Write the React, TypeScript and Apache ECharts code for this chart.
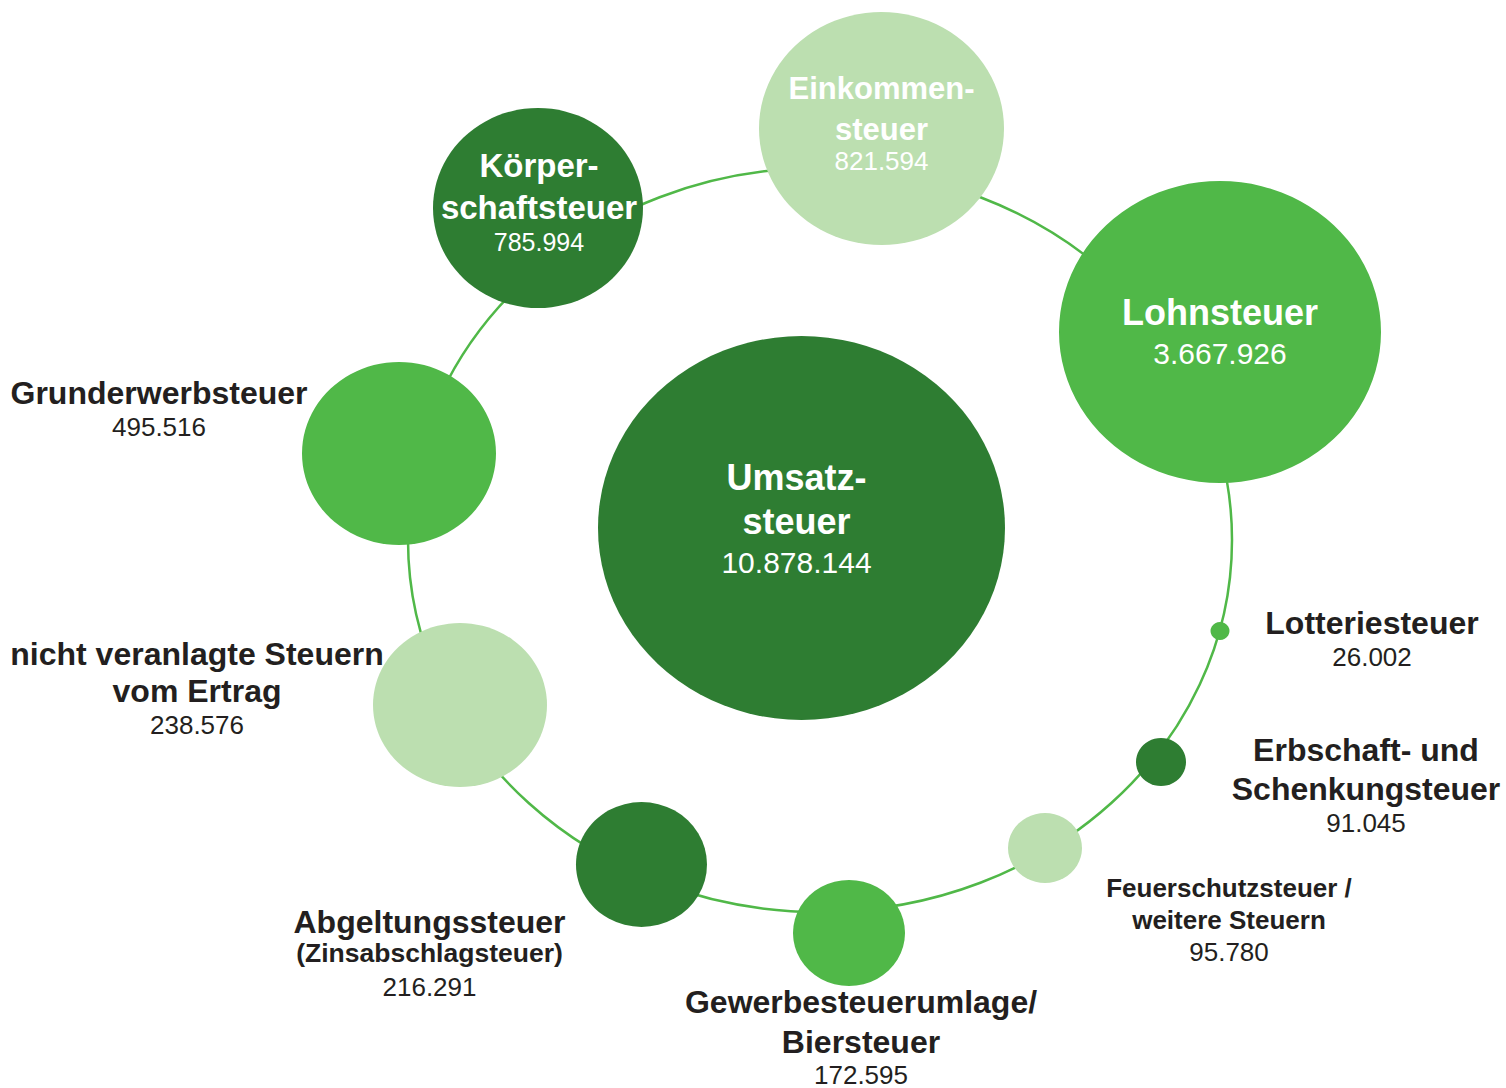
import React, { useEffect, useRef } from "react";
import * as echarts from "echarts";

// ---- data ----
const categories = [
  "Umsatzsteuer",
  "Lohnsteuer",
  "Einkommensteuer",
  "Körperschaftsteuer",
  "Grunderwerbsteuer",
  "nicht veranlagte Steuern vom Ertrag",
  "Abgeltungssteuer (Zinsabschlagsteuer)",
  "Gewerbesteuerumlage/Biersteuer",
  "Feuerschutzsteuer / weitere Steuern",
  "Erbschaft- und Schenkungsteuer",
  "Lotteriesteuer",
];
const values = [10878144, 3667926, 821594, 785994, 495516, 238576, 216291, 172595, 95780, 91045, 26002];
const labelLines = [
  ["Umsatz-", "steuer"],
  ["Lohnsteuer"],
  ["Einkommen-", "steuer"],
  ["Körper-", "schaftsteuer"],
  ["Grunderwerbsteuer"],
  ["nicht veranlagte Steuern", "vom Ertrag"],
  ["Abgeltungssteuer", "(Zinsabschlagsteuer)"],
  ["Gewerbesteuerumlage/", "Biersteuer"],
  ["Feuerschutzsteuer /", "weitere Steuern"],
  ["Erbschaft- und", "Schenkungsteuer"],
  ["Lotteriesteuer"],
];

// ---- layout (positions, sizes, styles) ----
const centers = [
  [801.5, 528], [1220, 332], [881.5, 128.5], [538, 208], [399, 453.5], [460, 705],
  [641.5, 864.5], [849, 933], [1045, 848], [1161, 762], [1220, 631],
];
const sizes = [
  [407, 384], [322, 302], [245, 233], [210, 200], [194, 183], [174, 164],
  [131, 125], [112, 106], [74, 70], [50, 48], [19, 18],
];
const DARK = "#2e7d32";
const MID = "#50b848";
const LIGHT = "#bcdfb0";
const colors = [DARK, MID, LIGHT, DARK, MID, LIGHT, DARK, MID, LIGHT, DARK, MID];
const labelOffsets = [
  [-5, -10], [0, 0], [0, -9], [1, -8], [-240, -44.5], [-263, -17],
  [-212, 91.5], [12, 102], [184, 72], [205, 22], [152, 8],
];
// [fontSize, lineHeight, bold] per text line (last = value)
const lineStyles: [number, number, boolean][][] = [
  [[36, 44, true], [36, 44, true], [30, 38, false]],
  [[36, 42, true], [30, 40, false]],
  [[31, 41, true], [31, 41, true], [26, 22, false]],
  [[33, 42, true], [33, 42, true], [25, 28, false]],
  [[32, 36, true], [26, 32, false]],
  [[32, 37, true], [32, 37, true], [26, 31, false]],
  [[32, 32, true], [26.5, 30, true], [26, 38, false]],
  [[32, 40, true], [32, 40, true], [26, 26, false]],
  [[26, 32, true], [26, 32, true], [26, 32, false]],
  [[32, 39, true], [32, 39, true], [26, 29, false]],
  [[32, 36, true], [26, 32, false]],
];
const insideLabel = [true, true, true, true, false, false, false, false, false, false, false];
const TEXT_DARK = "#231f20";
const FONT = "'Liberation Sans', Arial, sans-serif";

function fmtDE(v: number): string {
  return String(v).replace(/\B(?=(\d{3})+(?!\d))/g, ".");
}

export default function App() {
  const ref = useRef<HTMLDivElement>(null);
  useEffect(() => {
    if (!ref.current) return;
    const chart = echarts.init(ref.current, null, { renderer: "svg" });
    const data = values.map((v, i) => {
      const lines = labelLines[i];
      const styles = lineStyles[i];
      const rich: any = {};
      styles.forEach((s, j) => {
        rich["s" + j] = {
          fontSize: s[0],
          lineHeight: s[1],
          fontWeight: s[2] ? "bold" : "normal",
          fontFamily: FONT,
          color: insideLabel[i] ? "#ffffff" : TEXT_DARK,
          align: "center",
        };
      });
      const text =
        lines.map((t, j) => `{s${j}|${t}}`).join("\n") + `\n{s${lines.length}|${fmtDE(v)}}`;
      const [w, h] = sizes[i];
      const [dx, dy] = labelOffsets[i];
      return {
        name: categories[i],
        value: [centers[i][0], centers[i][1], v],
        symbolSize: sizes[i],
        itemStyle: { color: colors[i], opacity: 1 },
        label: {
          show: true,
          position: [w / 2 + dx, h / 2 + dy],
          formatter: () => text,
          rich,
          align: "center",
          verticalAlign: "middle",
        },
      };
    });
    chart.setOption({
      animation: false,
      grid: { left: 0, right: 0, top: 0, bottom: 0 },
      xAxis: { type: "value", min: 0, max: 1506, show: false },
      yAxis: { type: "value", min: 0, max: 1088, inverse: true, show: false },
      graphic: {
        elements: [
          {
            type: "ellipse",
            z: 0,
            silent: true,
            shape: { cx: 820, cy: 540, rx: 412, ry: 372 },
            style: { fill: "none", stroke: MID, lineWidth: 2.5 },
          },
        ],
      },
      series: [
        {
          type: "scatter",
          z: 5,
          silent: true,
          symbol: "circle",
          itemStyle: { opacity: 1 },
          data,
          emphasis: { disabled: true },
          labelLayout: { hideOverlap: false },
        },
      ],
    });
    return () => chart.dispose();
  }, []);
  return (
    <div
      ref={ref}
      style={{ position: "absolute", left: 0, top: 0, width: 1506, height: 1088, background: "#ffffff" }}
    />
  );
}
